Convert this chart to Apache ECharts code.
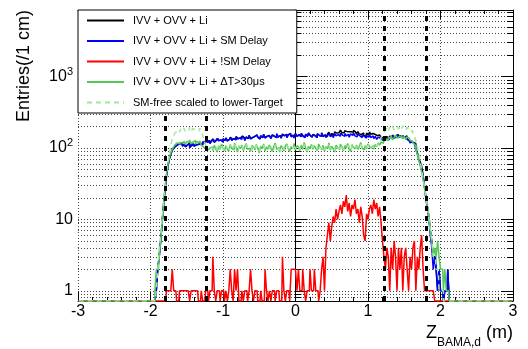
<!DOCTYPE html>
<html style="height: 100%">
<head>
    <meta charset="utf-8">
    <script src="https://cdn.jsdelivr.net/npm/echarts@6/dist/echarts.min.js"></script>
</head>
<body style="height: 100%; margin: 0; background: #fff">
    <div id="main" style="width: 528px; height: 349px"></div>
    <script type="text/javascript">
        // histogram binning (2 cm bins), values listed from X0 upward, zero elsewhere
        var X0 = -1.96;
        var BW = 0.02;
        var seriesNames = [
            'IVV + OVV + Li',
            'IVV + OVV + Li + SM Delay',
            'IVV + OVV + Li + !SM Delay',
            'IVV + OVV + Li + \u0394T>30\u03bcs',
            'SM-free scaled to lower-Target'
        ];

        var allVals = [
            0,0,1,2,3,5,9,16,26,41,
            56,71,83,94,101,107,112,110,117,115,
            107,113,105,111,117,102,109,115,107,111,
            113,108,116,111,122,118,127,121,128,117,
            125,135,121,128,137,127,130,123,135,128,
            139,126,133,142,129,136,132,145,136,138,
            132,147,138,129,143,136,151,136,141,146,
            139,153,142,134,149,140,156,140,147,150,
            145,136,153,147,140,159,143,150,138,157,
            149,156,141,153,160,146,152,140,160,147,
            154,145,161,150,141,156,147,163,152,143,
            155,150,141,159,150,147,164,147,153,144,
            156,167,149,160,151,169,162,164,159,178,
            164,164,175,170,169,159,169,166,178,167,
            156,170,157,155,163,152,143,162,152,168,
            156,160,155,160,149,153,153,139,141,131,
            136,146,133,147,142,152,141,147,155,144,
            148,142,151,143,148,134,127,121,124,120,
            115,97,87,72,64,56,42,29,20,15,
            11,7,5,3,3,2,1,2,1,1,
            0,1,1,2,0
        ];
        var smDelayVals = [
            0,0,1,2,3,5,9,16,26,40,
            55,70,82,92,100,106,112,110,116,114,
            106,112,104,110,116,102,108,114,106,110,
            112,108,116,110,122,118,126,120,128,116,
            124,132,120,128,136,126,130,122,134,128,
            138,126,132,140,128,136,130,144,134,138,
            132,146,138,128,142,136,150,134,140,146,
            138,152,142,134,148,140,156,138,146,150,
            144,136,152,146,140,158,142,150,138,154,
            148,156,140,152,160,144,150,138,158,146,
            152,144,160,148,140,156,146,162,150,142,
            154,148,140,158,150,146,162,144,152,140,
            150,158,144,152,140,160,148,154,146,162,
            152,146,160,148,156,142,158,150,164,148,
            144,156,148,140,152,146,138,150,142,154,
            140,148,136,146,132,142,138,130,136,128,
            134,142,130,146,138,150,136,144,154,140,
            146,138,150,140,144,132,126,118,122,116,
            110,96,84,70,60,50,40,28,19,14,
            10,6,4,2,3,2,1,2,1,1,
            0,1,1,2,0
        ];
        var notSmVals = [
            0,0,0,0,0,0,0,0,0,1,
            1,1,1,2,1,1,0,0,1,1,
            1,1,1,1,1,0,1,1,1,1,
            1,0,0,1,0,0,1,1,0,1,
            1,3,1,0,1,1,0,1,1,0,
            1,0,1,2,1,0,2,1,2,0,
            0,1,0,1,1,0,1,2,1,0,
            1,1,0,0,1,0,0,2,1,0,
            1,0,1,1,0,1,1,0,0,3,
            1,0,1,1,0,2,2,2,2,1,
            2,1,1,2,1,0,1,1,2,1,
            1,2,1,1,0,1,2,3,1,4,
            6,9,5,8,11,9,14,10,13,16,
            12,18,15,22,13,17,11,16,14,19,
            12,14,9,15,11,6,5,12,10,14,
            16,12,19,14,17,11,15,9,5,3,
            2,4,3,1,4,2,5,3,1,4,
            2,4,1,3,4,2,1,3,2,4,
            5,1,3,2,4,6,2,1,1,1,
            1,1,1,1,0,0,0,0,0,0,
            0,0,0,0,0
        ];
        var dtVals = [
            0,1,2,2,3,5,9,16,27,42,
            58,74,86,96,104,112,118,115,122,120,
            118,126,112,124,120,130,116,122,128,114,
            124,118,126,110,104,98,102,94,100,96,
            104,92,110,98,88,106,96,114,100,92,
            108,96,90,112,100,94,118,102,88,106,
            98,110,92,104,116,96,100,90,108,102,
            94,112,100,86,106,98,114,92,104,96,
            110,100,90,104,118,96,102,88,108,100,
            92,106,114,98,90,104,100,116,94,108,
            102,90,110,96,120,100,88,106,98,112,
            96,108,100,92,114,102,96,110,90,104,
            100,118,94,106,98,88,110,102,96,114,
            104,92,108,100,116,96,90,112,102,98,
            110,96,104,120,100,94,108,98,114,104,
            102,108,96,112,104,118,110,122,116,128,
            134,128,142,136,148,130,140,152,138,146,
            140,150,136,146,132,144,138,128,126,118,
            112,96,82,68,56,46,36,27,20,15,
            11,7,5,3,4,3,5,3,2,2,
            1,2,1,1,0
        ];
        var smFreeVals = [
            0,0,1,2,4,6,10,18,30,45,
            60,85,110,135,150,165,172,180,168,185,
            176,190,172,185,178,195,170,188,182,176,
            186,174,190,170,150,125,110,104,98,102,
            100,96,106,102,92,110,98,108,96,94,
            104,100,94,108,104,98,112,98,92,110,
            102,106,96,100,112,100,96,94,104,106,
            98,108,104,90,102,102,110,96,100,100,
            106,104,94,100,112,100,98,92,104,104,
            96,102,110,102,94,100,104,110,98,104,
            98,94,106,100,114,104,92,102,102,108,
            100,104,104,96,110,98,100,106,94,100,
            104,112,98,102,102,92,106,98,100,110,
            100,96,104,104,110,100,94,108,98,102,
            106,100,100,114,104,98,104,102,110,108,
            98,104,100,110,106,118,124,140,152,166,
            178,190,172,196,184,200,180,192,205,186,
            198,184,206,190,178,196,182,170,176,160,
            150,128,104,84,66,50,38,28,20,15,
            10,7,5,3,3,2,2,1,1,1,
            0,0,0,0,0
        ];

        var seriesColors = ['#000000', '#0000ff', '#ff0000', '#55c855', '#9fe89f'];
        var cutEdges = [-1.8, -1.23, 1.23, 1.8];

        var YMIN = 0.72, YMAX = 8600;
        var yLabelVals = [1, 10, 100, 1000];
        var yTickVals = [0.8, 0.9];
        [1, 10, 100, 1000].forEach(function (d) {
            for (var m = 1; m <= 9; m++) {
                if (d * m <= YMAX) yTickVals.push(d * m);
            }
        });

        // ROOT draws empty bins at the bottom of the log frame
        function toBins(vals) {
            var off = Math.round((X0 + 3) / BW);
            var out = [];
            for (var i = 0; i < 300; i++) {
                var k = i - off;
                var v = (k >= 0 && k < vals.length) ? vals[k] : 0;
                out.push([-3 + BW * (i + 0.5), v > 0 ? v : YMIN]);
            }
            return out;
        }

        var font = 'Liberation Sans';
        var gridLine = {show: true, lineStyle: {color: '#444', type: [1, 2], width: 1}};

        var series = [allVals, smDelayVals, notSmVals, dtVals, smFreeVals].map(function (vals, i) {
            return {
                name: seriesNames[i],
                type: 'line',
                step: 'middle',
                symbol: 'none',
                z: 2,
                xAxisIndex: 0,
                yAxisIndex: 0,
                data: toBins(vals),
                lineStyle: {color: seriesColors[i], width: 1.5, type: i === 4 ? [5, 4] : 'solid'},
                itemStyle: {color: seriesColors[i]}
            };
        });
        series[4].markLine = {
            silent: true,
            symbol: 'none',
            z: 3,
            label: {show: false},
            lineStyle: {color: '#000', width: 3, type: [5, 5]},
            data: cutEdges.map(function (x) {
                return [{coord: [x, YMIN]}, {coord: [x, YMAX]}];
            })
        };

        function yAxisDef(pos, ticks, len, labels) {
            return {
                type: 'log',
                logBase: 10,
                position: pos,
                min: YMIN,
                max: YMAX,
                axisLine: {show: labels, lineStyle: {color: '#000', width: 1}},
                axisTick: {show: true, inside: true, length: len, customValues: ticks, lineStyle: {color: '#000'}},
                splitLine: labels && pos === 'left' ? gridLine : {show: false},
                axisLabel: labels && pos === 'left' ? {
                    show: true,
                    customValues: yLabelVals,
                    margin: 5,
                    color: '#000',
                    fontFamily: font,
                    fontSize: 16,
                    formatter: function (v) {
                        var e = Math.round(Math.log10(v));
                        if (e === 0) return '1';
                        if (e === 1) return '10';
                        return '10{sup|' + e + '}';
                    },
                    rich: {sup: {fontSize: 11, fontFamily: font, color: '#000', padding: [0, 0, 10, 0]}}
                } : {show: false}
            };
        }

        var myChart = echarts.init(document.getElementById('main'));

        var option = {
            animation: false,
            backgroundColor: '#fff',
            grid: {left: 78, right: 15, top: 10, bottom: 44},
            legend: {
                left: 78,
                top: 10,
                z: 50,
                orient: 'vertical',
                backgroundColor: '#fff',
                borderColor: '#000',
                borderWidth: 1,
                borderRadius: 0,
                padding: [5, 14, 5, 8],
                itemWidth: 37,
                itemHeight: 12,
                itemGap: 9.5,
                itemStyle: {color: 'rgba(0,0,0,0)', borderWidth: 0, opacity: 0},
                textStyle: {fontFamily: font, fontSize: 11, color: '#000', padding: [0, 0, 0, 4]},
                data: seriesNames
            },
            xAxis: [{
                type: 'value',
                position: 'bottom',
                min: -3,
                max: 3,
                interval: 1,
                axisLine: {lineStyle: {color: '#000', width: 1}},
                axisTick: {inside: true, length: 9, lineStyle: {color: '#000'}},
                minorTick: {show: true, splitNumber: 5, length: 4, lineStyle: {color: '#000'}},
                splitLine: gridLine,
                axisLabel: {color: '#000', fontFamily: font, fontSize: 16, margin: 3},
                name: '{z|Z}{sub|BAMA,d}{z| (m)}',
                nameLocation: 'end',
                nameGap: 0,
                nameTextStyle: {
                    align: 'right',
                    verticalAlign: 'top',
                    padding: [16, 0, 0, 0],
                    rich: {
                        z: {fontFamily: font, fontSize: 18, color: '#000'},
                        sub: {fontFamily: font, fontSize: 12, color: '#000', padding: [20, 0, 0, 0]}
                    }
                }
            }, {
                type: 'value',
                position: 'top',
                min: -3,
                max: 3,
                interval: 1,
                axisLine: {lineStyle: {color: '#000', width: 1}},
                axisTick: {inside: true, length: 9, lineStyle: {color: '#000'}},
                minorTick: {show: true, splitNumber: 5, length: 4, lineStyle: {color: '#000'}},
                splitLine: {show: false},
                axisLabel: {show: false}
            }],
            yAxis: [
                yAxisDef('left', yTickVals, 6, true),
                yAxisDef('left', yLabelVals, 12, false),
                yAxisDef('right', yTickVals, 6, true),
                yAxisDef('right', yLabelVals, 12, false)
            ],
            graphic: [{
                type: 'text',
                x: 24,
                y: 10,
                rotation: Math.PI / 2,
                style: {
                    text: 'Entries(/1 cm)',
                    font: '18px "Liberation Sans"',
                    fill: '#000',
                    align: 'right',
                    verticalAlign: 'middle'
                }
            }],
            series: series
        };

        myChart.setOption(option);
    </script>
</body>
</html>
